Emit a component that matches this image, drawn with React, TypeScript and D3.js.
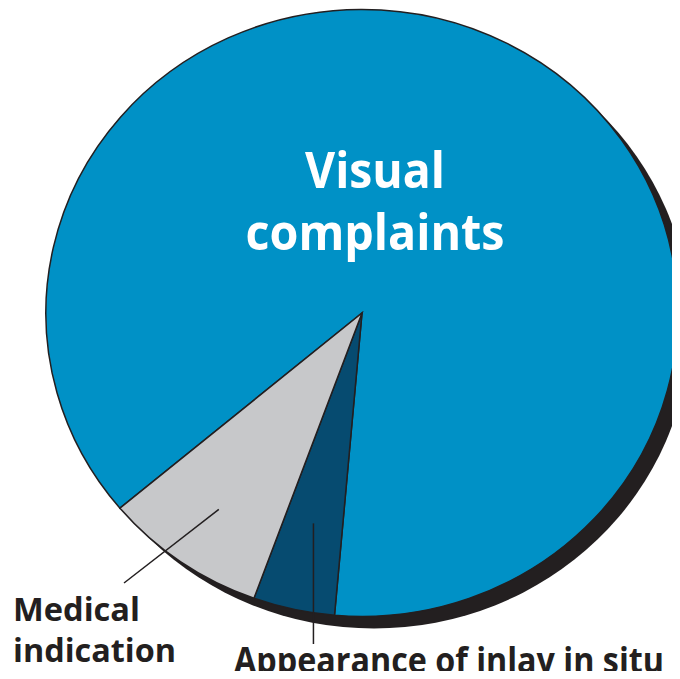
import React, { useEffect, useRef } from 'react';
import * as d3 from 'd3';

// slice order (clockwise from start angle)
const categories = ['Visual complaints', 'Appearance of inlay in situ', 'Medical indication'];
const counts = [21, 1, 2];
const colors = ['#0091C6', '#064B70', '#C7C8CA'];

const App = () => {
  const ref = useRef<SVGSVGElement>(null);

  useEffect(() => {
    const width = 680;
    const height = 679;
    const cx = 362;
    const cy = 313;
    const rx = 316;
    const ry = 303.5;
    const ink = '#231F20';
    const font = "'Open Sans', 'Noto Sans', sans-serif";

    const svg = d3.select(ref.current).attr('width', width).attr('height', height);
    svg.selectAll('*').remove();

    const toRad = (deg: number) => (deg * Math.PI) / 180;
    const pie = d3
      .pie<number>()
      .sort(null)
      .startAngle(toRad(230))
      .endAngle(toRad(590));
    const arcs = pie(counts);
    const arc = d3.arc<d3.PieArcDatum<number>>().innerRadius(0).outerRadius(1);

    // point on the (elliptical) pie at angle a and relative radius r
    const pt = (a: number, r: number): [number, number] => [cx + Math.sin(a) * r * rx, cy - Math.cos(a) * r * ry];

    // drop shadow
    svg
      .append('ellipse')
      .attr('cx', cx + 12)
      .attr('cy', cy + 12)
      .attr('rx', rx)
      .attr('ry', ry)
      .attr('fill', ink);

    const g = svg.append('g').attr('transform', `translate(${cx},${cy}) scale(${rx},${ry})`);
    g.selectAll('path')
      .data(arcs)
      .enter()
      .append('path')
      .attr('d', (d) => arc(d) as string)
      .attr('fill', (d, i) => colors[i])
      .attr('stroke', ink)
      .attr('stroke-width', 1.5)
      .attr('stroke-linejoin', 'miter')
      .attr('vector-effect', 'non-scaling-stroke');

    // Visual complaints label (inside)
    const big = svg
      .append('text')
      .attr('fill', '#fff')
      .attr('font-family', font)
      .attr('font-weight', 700)
      .attr('font-size', 50)
      .attr('text-anchor', 'middle');
    big.append('tspan').attr('x', 375).attr('y', 188).attr('textLength', 140).attr('lengthAdjust', 'spacingAndGlyphs').text('Visual');
    big.append('tspan').attr('x', 375).attr('y', 250).attr('textLength', 259).attr('lengthAdjust', 'spacingAndGlyphs').text('complaints');

    // leader lines
    const mid = (d: d3.PieArcDatum<number>) => (d.startAngle + d.endAngle) / 2;
    const medStart = pt(mid(arcs[2]), 0.79);
    svg
      .append('line')
      .attr('x1', medStart[0])
      .attr('y1', medStart[1])
      .attr('x2', 124)
      .attr('y2', 583)
      .attr('stroke', ink)
      .attr('stroke-width', 1.5);

    const appStart = pt(mid(arcs[1]), 0.71);
    svg
      .append('line')
      .attr('x1', appStart[0])
      .attr('y1', appStart[1])
      .attr('x2', appStart[0])
      .attr('y2', 644)
      .attr('stroke', ink)
      .attr('stroke-width', 1.5);

    // outside labels
    const med = svg
      .append('text')
      .attr('fill', ink)
      .attr('font-family', font)
      .attr('font-weight', 700)
      .attr('font-size', 33);
    med.append('tspan').attr('x', 13).attr('y', 621).attr('textLength', 127).attr('lengthAdjust', 'spacingAndGlyphs').text('Medical');
    med.append('tspan').attr('x', 13).attr('y', 662).attr('textLength', 163).attr('lengthAdjust', 'spacingAndGlyphs').text('indication');

    svg
      .append('text')
      .attr('x', 234)
      .attr('y', 673)
      .attr('fill', ink)
      .attr('font-family', font)
      .attr('font-weight', 700)
      .attr('font-size', 35)
      .attr('textLength', 430)
      .attr('lengthAdjust', 'spacingAndGlyphs')
      .text(categories[1]);
  }, []);

  return (
    <div style={{ margin: -8 }}>
      <svg ref={ref} style={{ display: 'block' }}></svg>
    </div>
  );
};

export default App;
